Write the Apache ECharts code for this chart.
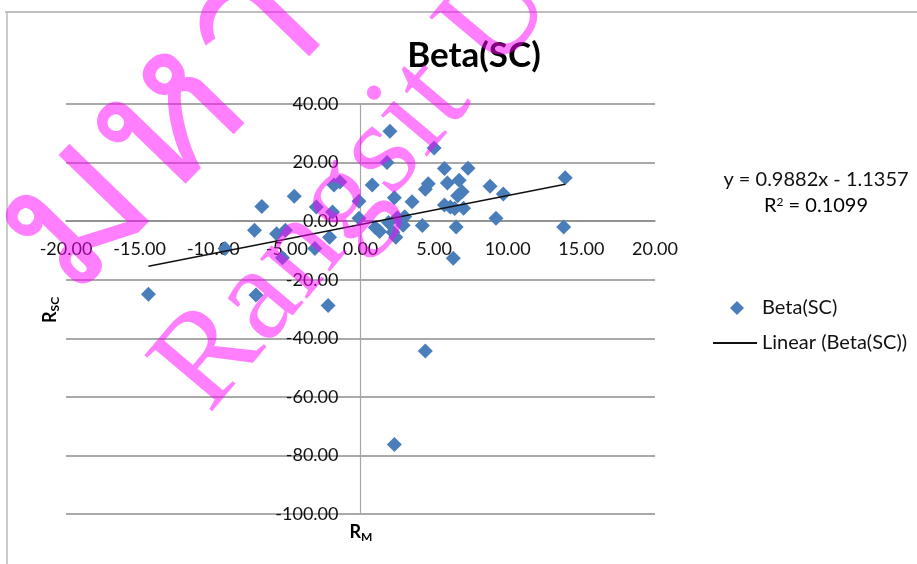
<!DOCTYPE html>
<html><head><meta charset="utf-8">
<script src="https://cdn.jsdelivr.net/npm/echarts@6/dist/echarts.min.js"></script>
<style>html,body{margin:0;padding:0;background:#fff}#c{width:917px;height:564px}</style>
</head><body><div id="c"></div>
<script>
// Market return R_M (x) and stock return R_SC (y)
const rmValues = [-14.4, -9.2, -7.2, -6.7, -7.1, -5.7, -5.1, -5.3, -4.5, -3.0, -3.1, -2.2, -2.1, -1.8, -1.4, -1.9,
  -0.1, -0.1, 0.8, 1.0, 1.3, 2.0, 1.8, 2.3, 2.5, 2.2, 2.9, 2.4, 1.9, 3.5, 4.2, 4.4, 2.3, 5.0, 4.4, 4.6,
  5.7, 5.9, 5.7, 6.5, 6.3, 6.7, 6.6, 6.4, 7.0, 7.3, 8.8, 9.2, 9.7, 13.9, 13.8, 6.1, 6.9, 3.0];
const rscValues = [-25.0, -9.3, -3.1, 5.0, -25.2, -4.3, -3.1, -12.5, 8.5, 4.8, -9.3, -28.8, -5.5, 12.3, 13.4, 3.1,
  6.8, 1.0, 12.3, -2.2, -3.5, 30.7, 20.0, 8.0, 1.2, -3.8, -1.4, -5.5, -0.5, 6.6, -1.5, -44.3, -76.3, 25.0, 10.9, 12.8,
  18.0, 13.0, 5.5, -2.0, -12.7, 14.0, 8.7, 4.3, 4.4, 18.1, 11.9, 1.0, 9.3, 14.8, -2.0, 4.8, 10.0, 1.5];
const trendSlope = 0.9882;
const trendIntercept = -1.1357;
const rSquared = 0.1099;
const xTickSpec = [-20, 20, 5];   // min, max, interval
const yTickSpec = [-100, 40, 20];
const seriesName = 'Beta(SC)';
const trendName = 'Linear (Beta(SC))';
const titleText = 'Beta(SC)';

const points = rmValues.map((x, i) => [x, rscValues[i]]);
const xMinData = Math.min(...rmValues), xMaxData = Math.max(...rmValues);
const trendData = [[xMinData, trendSlope * xMinData + trendIntercept], [xMaxData, trendSlope * xMaxData + trendIntercept]];

const FONT = 'Lato';
const GRID = {left: 66, right: 262, top: 104, bottom: 50};
const chart = echarts.init(document.getElementById('c'), null, {renderer: 'canvas'});
const pink = 'rgba(255,0,255,0.5)';
chart.setOption({
  animation: false,
  backgroundColor: '#fff',
  textStyle: {fontFamily: FONT},
  title: {text: titleText, left: 469, top: 33, textAlign: 'center',
    textStyle: {fontFamily: FONT, fontSize: 35, fontWeight: 'bold', color: '#000'}},
  grid: Object.assign({containLabel: false, outerBoundsMode: 'none'}, GRID),
  xAxis: {type: 'value', min: xTickSpec[0], max: xTickSpec[1], interval: xTickSpec[2], position: 'bottom',
    axisLine: {show: true, onZero: false, lineStyle: {color: '#8c8c8c', width: 1.5}},
    axisTick: {show: false}, splitLine: {show: false},
    axisLabel: {margin: 19, fontFamily: FONT, fontSize: 18, color: '#111', formatter: v => v.toFixed(2)}},
  yAxis: {type: 'value', min: yTickSpec[0], max: yTickSpec[1], interval: yTickSpec[2], position: 'left',
    axisLine: {show: true, onZero: false, lineStyle: {color: '#a6a6a6', width: 1.2}},
    axisTick: {show: false},
    splitLine: {show: true, lineStyle: {color: '#8c8c8c', width: 1.5}},
    axisLabel: {margin: 22, fontFamily: FONT, fontSize: 18, color: '#111', formatter: v => v.toFixed(2)}},
  legend: [
    {data: [{name: seriesName, icon: 'diamond'}], left: 730, top: 298, orient: 'vertical', padding: 0,
      itemWidth: 14, itemHeight: 14,
      textStyle: {fontFamily: FONT, fontSize: 20, color: '#111', padding: [0, 0, 0, 13]}},
    {data: [{name: trendName, icon: 'rect', itemStyle: {color: '#111'}}], left: 713, top: 333, orient: 'vertical', padding: 0,
      itemWidth: 44, itemHeight: 2,
      textStyle: {fontFamily: FONT, fontSize: 20, color: '#111'}}
  ],
  series: [
    {name: seriesName, type: 'scatter', symbol: 'diamond', symbolSize: 15,
      itemStyle: {color: '#4A7EBB', opacity: 1}, data: points, z: 2},
    {name: trendName, type: 'line', data: trendData, symbol: 'none', showSymbol: false,
      lineStyle: {color: '#111', width: 1.5}, itemStyle: {color: '#111'}, z: 3}
  ],
  graphic: [
    {type: 'line', shape: {x1: 5, y1: 12, x2: 917, y2: 12}, style: {stroke: '#aaa', lineWidth: 1.5}},
    {type: 'line', shape: {x1: 7, y1: 12, x2: 7, y2: 564}, style: {stroke: '#bbb', lineWidth: 1.5}},
    {type: 'text', x: 816, y: 170, style: {text: 'y = ' + trendSlope.toFixed(4) + 'x - ' + Math.abs(trendIntercept).toFixed(4),
      align: 'center', font: '20px Lato', fill: '#111'}},
    {type: 'text', x: 816, y: 196, style: {text: '{n|R}{s|2}{n| = ' + rSquared.toFixed(4) + '}', align: 'center',
      rich: {n: {fontFamily: FONT, fontSize: 20, color: '#111'}, s: {fontFamily: FONT, fontSize: 12, color: '#111', verticalAlign: 'top', padding: [0,0,8,0]}}}},
    {type: 'text', x: 361, y: 522, style: {text: '{n|R}{s|M}', align: 'center',
      rich: {n: {fontFamily: FONT, fontSize: 18, fontWeight: 'bold', color: '#111'}, s: {fontFamily: FONT, fontSize: 12, fontWeight: 'bold', color: '#111', padding: [9,0,0,0]}}}},
    {type: 'text', x: 40, y: 323, rotation: Math.PI / 2, style: {text: '{n|R}{s|SC}', align: 'left',
      rich: {n: {fontFamily: FONT, fontSize: 18, fontWeight: 'bold', color: '#111'}, s: {fontFamily: FONT, fontSize: 12, fontWeight: 'bold', color: '#111', padding: [9,0,0,0]}}}},
    {type: 'text', x: 182, y: 392, rotation: 0.87, z: 100, style: {text: 'Rangsit University',
      font: '134px "Liberation Serif"', fill: pink, verticalAlign: 'middle'}},
    {type: 'text', x: 30, y: 262, rotation: 0.8, z: 100, style: {text: 'มหาวิทยาลัยรังสิต',
      font: '200px "Noto Sans"', fill: pink, verticalAlign: 'middle'}}
  ]
});
// Move the axes so they cross at zero (Excel style), labels following the lines
const zero = chart.convertToPixel({gridIndex: 0}, [0, 0]);
const gridBottomY = 564 - GRID.bottom;
chart.setOption({
  xAxis: {offset: -(gridBottomY - zero[1])},
  yAxis: {offset: -(zero[0] - GRID.left)}
});
</script></body></html>
